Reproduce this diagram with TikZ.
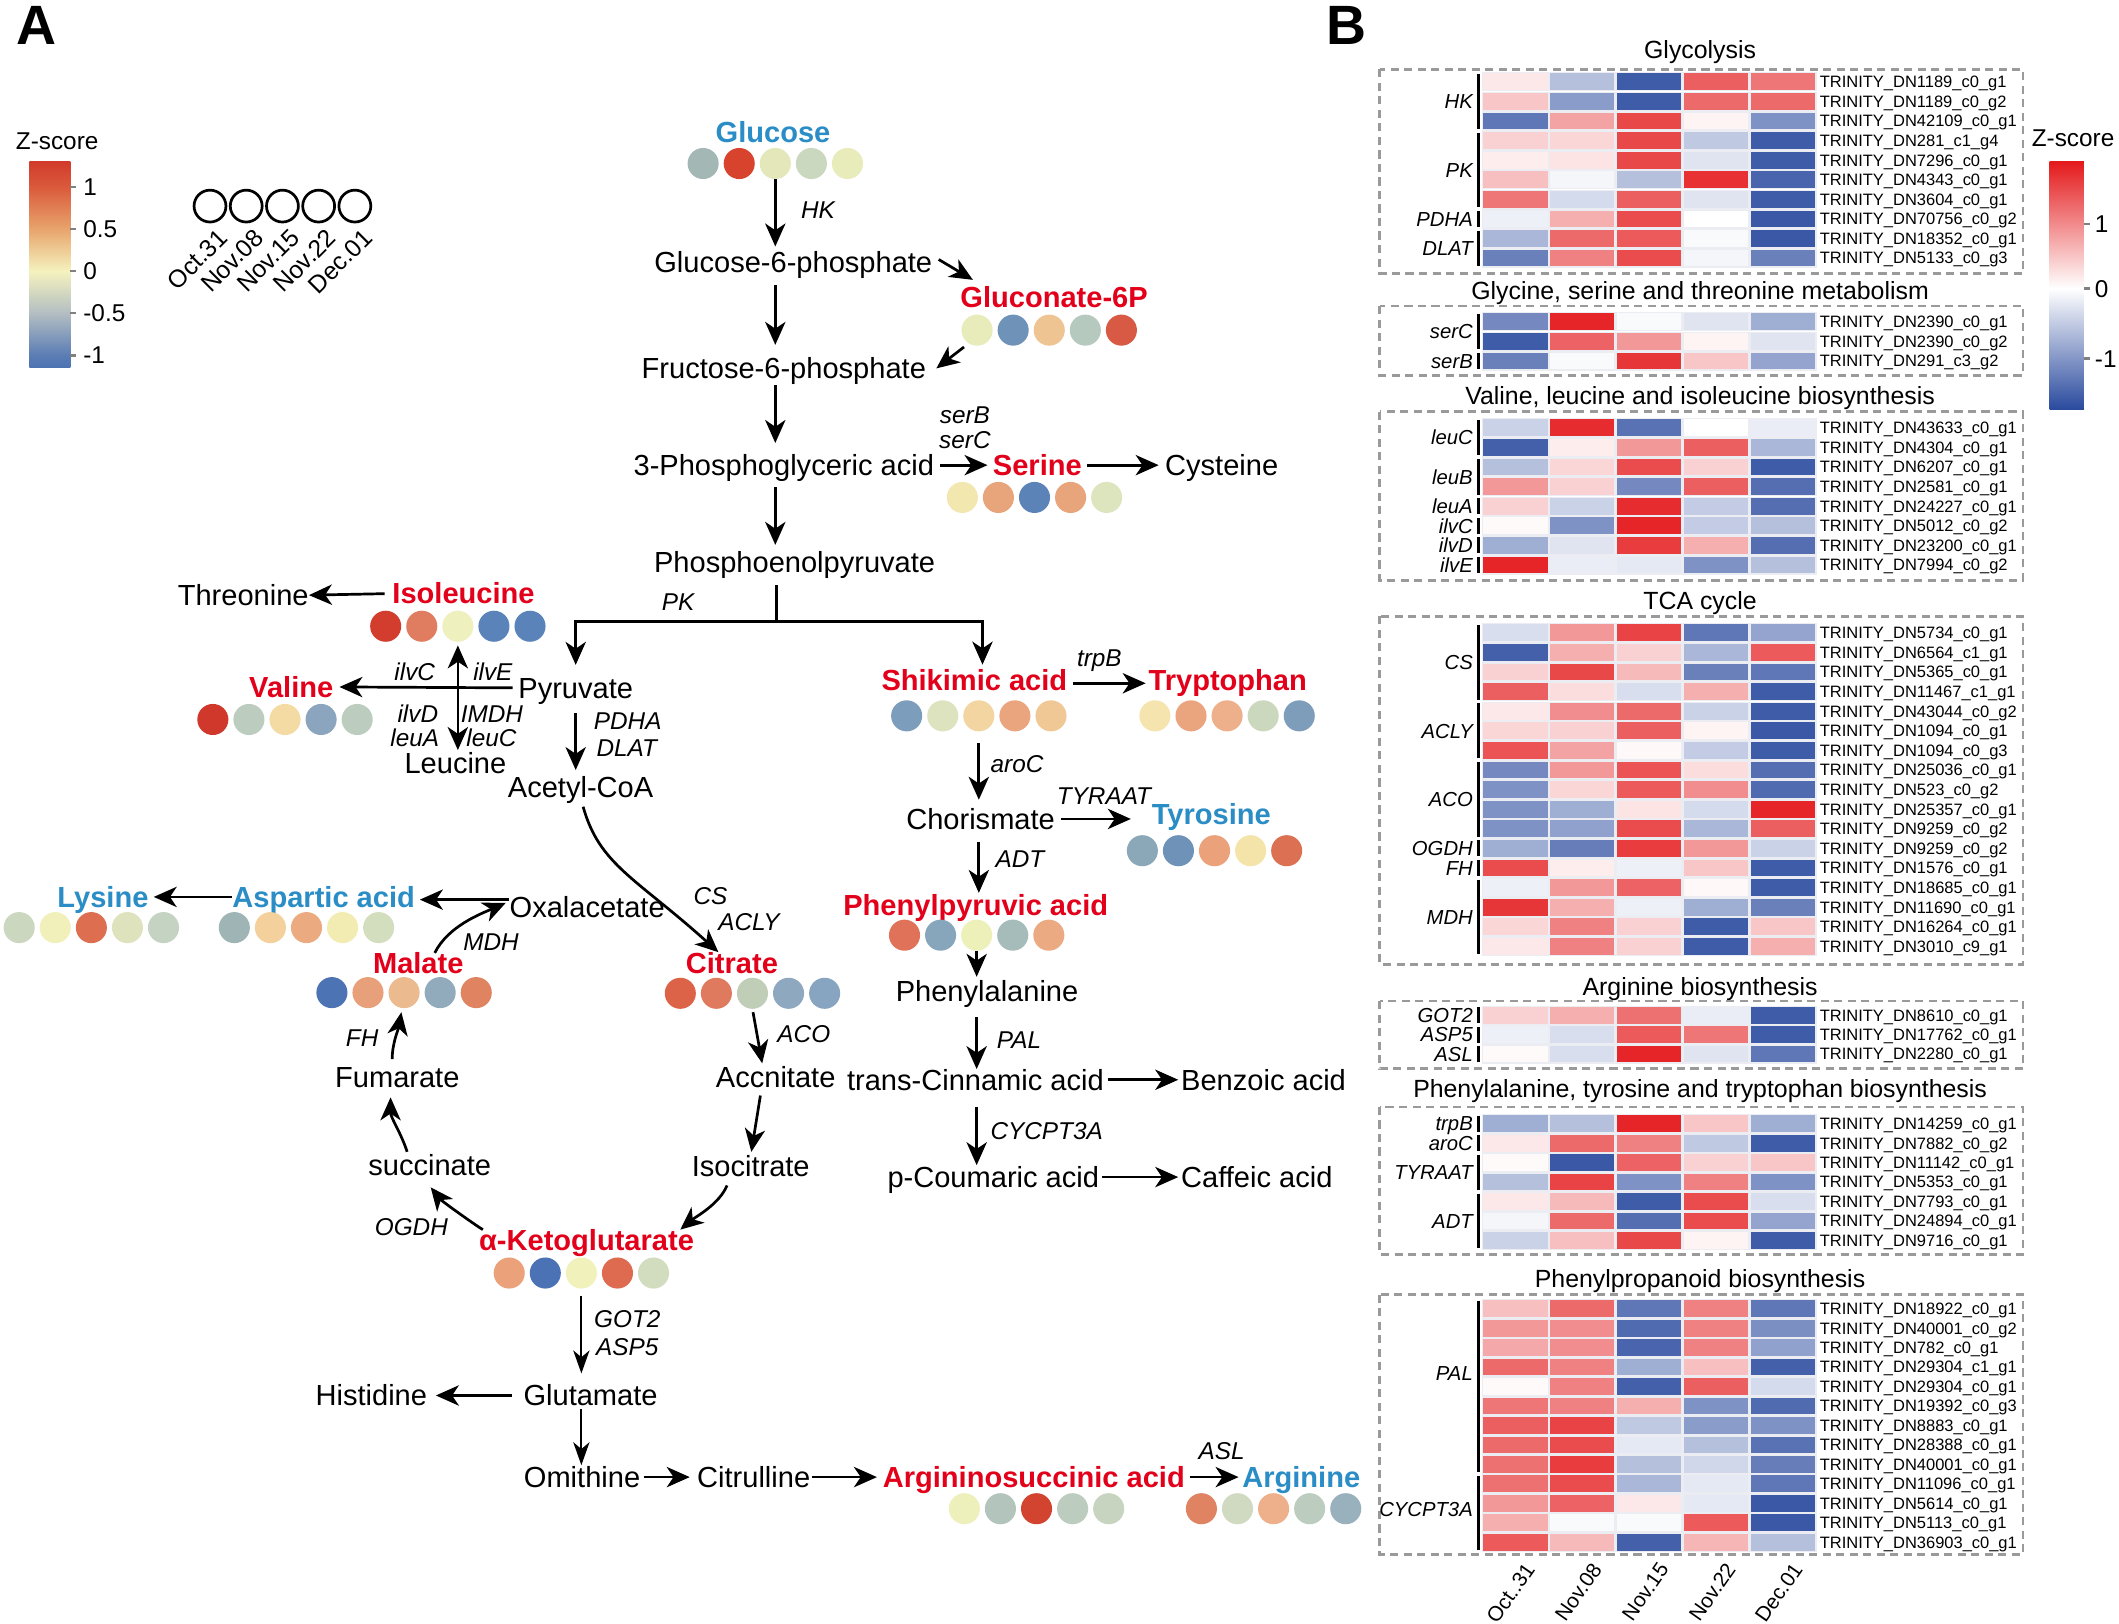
\documentclass[tikz,border=0pt]{standalone}
\usepackage{fontspec}
\setmainfont{Liberation Sans}
\usetikzlibrary{arrows.meta}
\definecolor{mred}{HTML}{E2001A}
\definecolor{mblue}{HTML}{2B8DC6}
\definecolor{hr}{HTML}{E41A1C}
\definecolor{hb}{HTML}{2A4A9E}
\definecolor{hbg}{HTML}{ECECF3}
\definecolor{dgray}{HTML}{9A9A9A}
\definecolor{zA}{HTML}{D23B2B}
\definecolor{zB}{HTML}{DA5A3C}
\definecolor{zC}{HTML}{E8A46C}
\definecolor{zD}{HTML}{F5F2BE}
\definecolor{zE}{HTML}{B3BEC2}
\definecolor{zF}{HTML}{5B7DB5}
\definecolor{zG}{HTML}{4C73B1}
\tikzset{
  met/.style={inner sep=0pt, text height=15.4pt, text depth=0pt, font=\fontsize{21.5}{24}\selectfont},
  metr/.style={met, font=\fontsize{21.5}{24}\selectfont\bfseries, text=mred},
  metb/.style={met, font=\fontsize{21.5}{24}\selectfont\bfseries, text=mblue},
  enz/.style={inner sep=0pt, text height=12.9pt, text depth=0pt, font=\fontsize{18}{20}\selectfont\itshape},
  dot/.style={circle, inner sep=0pt, minimum size=23pt},
  arr/.style={line width=2pt, -{Stealth[length=17pt,width=15pt,inset=5pt]}},
  arrthin/.style={line width=1.6pt, -{Stealth[length=17pt,width=12pt,inset=5pt]}},
  arrtwo/.style={line width=2pt, {Stealth[length=17pt,width=15pt,inset=5pt]}-{Stealth[length=17pt,width=15pt,inset=5pt]}},
  plainline/.style={line width=2pt},
  idl/.style={anchor=west, inner sep=0pt, text height=8.7pt, text depth=0pt, font=\fontsize{12.2}{13}\selectfont},
  glab/.style={anchor=east, inner sep=0pt, text height=10.7pt, text depth=0pt, font=\fontsize{15}{16}\selectfont\itshape},
  gbar/.style={line width=2pt, black},
  ttl/.style={inner sep=0pt, text height=13.2pt, text depth=0pt, font=\fontsize{18.4}{20}\selectfont},
  dbox/.style={draw=dgray, line width=2pt, dash pattern=on 6pt off 4pt},
  lgd/.style={inner sep=0pt, text height=12.9pt, text depth=0pt, font=\fontsize{18}{20}\selectfont},
  collab/.style={inner sep=0pt, font=\fontsize{15.4}{17}\selectfont, rotate=55, anchor=north east},
  panel/.style={inner sep=0pt, font=\fontsize{41}{45}\selectfont\bfseries},
}
\newcommand\dotrow[4]{%
  \foreach \c [count=\i] in {#4} {
    \definecolor{dc}{HTML}{\c}
    \node[dot, fill=dc] (#1-\i) at ({#2+(\i-1)*26.7}, #3) {};
  }%
}
\newcommand\hmsec[4]{%
  \foreach \vals/\idt [count=\r] in {#4} {
    \pgfmathsetmacro\ytop{#2+(\r-1)*#3}
    \fill[hbg] (1096.3,\ytop-1) rectangle (1344.8,\ytop+13.4);
    \foreach \v [count=\i] in \vals {
      \pgfmathtruncatemacro\a{abs(\v)}
      \ifnum\v<0 \colorlet{cc}{hb!\a!white}\else\colorlet{cc}{hr!\a!white}\fi
      \fill[cc] ({1097.5+(\i-1)*49.55},\ytop) rectangle ++(47.6,12.4);
    }
    \node[idl] (#1-\r) at (1346.4,\ytop+6.2) {\idt};
  }%
}
\newcommand\ggrp[7][0]{%
  \pgfmathsetmacro\gya{#3+(#5-1)*#4}%
  \pgfmathsetmacro\gyb{#3+(#6-1)*#4+12.4}%
  \draw[gbar] (1094,\gya+0.3) -- (1094,\gyb-0.3);
  \node[glab] (#2) at (1090,{(\gya+\gyb)/2+#1}) {#7};
}
\begin{document}
\begin{tikzpicture}[x=1pt,y=-1pt]
\fill[white] (0,0) rectangle (1568,1201);
\useasboundingbox (0,0) rectangle (1568,1201);

% ---------------- Panel A legend ----------------
\node[panel] (pA) at (27,19) {A};
\node[lgd] (zsA) at (42.3,104.1) {Z-score};
\shade[top color=zA, bottom color=zB] (21.7,119.7) rectangle (52,138.4);
\shade[top color=zB, bottom color=zC] (21.7,138.4) rectangle (52,169.5);
\shade[top color=zC, bottom color=zD] (21.7,169.5) rectangle (52,200.6);
\shade[top color=zD, bottom color=zE] (21.7,200.6) rectangle (52,231.7);
\shade[top color=zE, bottom color=zF] (21.7,231.7) rectangle (52,262.8);
\shade[top color=zF, bottom color=zG] (21.7,262.8) rectangle (52,272.2);
\foreach \yy/\tt [count=\i] in {138.4/1,169.5/0.5,200.6/0,231.7/-0.5,262.8/-1}{
  \draw[line width=2pt, gray] (52,\yy) -- (56.5,\yy);
  \node[lgd, anchor=west] (ta\i) at (61.5,\yy) {\tt};
}
\foreach \t [count=\i] in {Oct.31,Nov.08,Nov.15,Nov.22,Dec.01}{
  \node[draw, circle, line width=2pt, minimum size=23.6pt, inner sep=0pt] (lc\i) at ({155.4+(\i-1)*26.8},152.5) {};
  \node[inner sep=0pt, font=\fontsize{18.3}{20}\selectfont, rotate=45, anchor=north east] (ll\i) at ({155.4+(\i-1)*26.8+5},168) {\t};
}

% ---------------- Pathway nodes ----------------
\node[metb] (glc) at (572,97.5) {Glucose};
\node[met] (g6p) at (587,193.7) {Glucose-6-phosphate};
\node[metr] (gcn) at (780,219.6) {Gluconate-6P};
\node[met] (f6p) at (580,272.6) {Fructose-6-phosphate};
\node[met] (pga) at (580,344.2) {3-Phosphoglyceric acid};
\node[metr] (ser) at (767.6,344.2) {Serine};
\node[met] (cys) at (904,344.2) {Cysteine};
\node[met] (pep) at (588,415.7) {Phosphoenolpyruvate};
\node[met] (thr) at (180,440.4) {Threonine};
\node[metr] (ile) at (343,439.2) {Isoleucine};
\node[metr] (val) at (215.5,508.3) {Valine};
\node[met] (pyr) at (426,509) {Pyruvate};
\node[met] (leu) at (337,564.5) {Leucine};
\node[met] (acoa) at (429.6,582.3) {Acetyl-CoA};
\node[met] (oxa) at (434.5,671) {Oxalacetate};
\node[metb] (asp) at (239.5,663.7) {Aspartic acid};
\node[metb] (lys) at (76.2,663.7) {Lysine};
\node[metr] (mal) at (309.5,713) {Malate};
\node[metr] (cit) at (541.6,712.5) {Citrate};
\node[met] (acn) at (574,797) {Accnitate};
\node[met] (iso) at (555.5,863) {Isocitrate};
\node[metr] (akg) at (434,917.8) {α-Ketoglutarate};
\node[met] (suc) at (318,862) {succinate};
\node[met] (fum) at (294,797) {Fumarate};
\node[met] (glu) at (437,1032.6) {Glutamate};
\node[met] (his) at (274.8,1032.6) {Histidine};
\node[met] (orn) at (430.7,1093) {Omithine};
\node[met] (ctl) at (557.7,1093) {Citrulline};
\node[metr] (ars) at (765,1093) {Argininosuccinic acid};
\node[metb] (arg) at (962.9,1093) {Arginine};
\node[metr] (shik) at (721,503) {Shikimic acid};
\node[metr] (trp) at (908.5,503) {Tryptophan};
\node[met] (cho) at (725.6,606) {Chorismate};
\node[metb] (tyr) at (896.3,602.5) {Tyrosine};
\node[metr] (ppa) at (722,669.5) {Phenylpyruvic acid};
\node[met] (phe) at (730.4,733.2) {Phenylalanine};
\node[met] (tci) at (721.8,799) {trans-Cinnamic acid};
\node[met] (ben) at (935,799) {Benzoic acid};
\node[met] (pco) at (735,871) {p-Coumaric acid};
\node[met] (caf) at (930,871) {Caffeic acid};

% dots
\dotrow{glcd}{520.3}{121}{A3B8B5,D8432E,E3E7B9,CBD8C0,E8EBBA}
\dotrow{gcnd}{723}{244.3}{E8EBBA,6F93B8,EEC493,B5C9BF,D85A45}
\dotrow{serd}{712.1}{368.1}{F3E7B0,E8A47A,5B83B8,E8A47A,DCE5BE}
\dotrow{iled}{285.4}{463.4}{D33D2E,E07C60,EEF0BE,5A84B9,5A84B9}
\dotrow{vald}{157.5}{532.4}{D0382C,BCCDBF,F3DBA3,8AA5BD,BCCDBF}
\dotrow{aspd}{173.4}{686.4}{9FB5B5,F3D09C,EBAA80,F2ECB2,D3DEBE}
\dotrow{lysd}{14.2}{686.4}{CCD7C0,F1F0BA,DE6E50,DEE3BE,C5D4C2}
\dotrow{mald}{245.6}{734.5}{4C74B5,E8A07A,EBBA8F,91ABBC,E08361}
\dotrow{citd}{503.4}{735}{DC6348,E07A5F,C0CEB8,8DA8BF,87A4C0}
\dotrow{akgd}{376.8}{942}{EBA27A,4A72B5,F0F1BB,DE6B50,D1DDBE}
\dotrow{arsd}{713.6}{1116.4}{EEF0BC,B2C4BC,D2442F,BCCDC0,C6D4C0}
\dotrow{argd}{889}{1116.4}{E08363,CFDAC0,EEB08A,BCCDC0,98B1BD}
\dotrow{shikd}{670.9}{529.7}{7C9DBB,DCE3BE,F3D5A2,EBA57E,F0C896}
\dotrow{trpd}{854.6}{529.7}{F5E4AE,EBA57E,EEB08A,CCD8BE,7D9DBB}
\dotrow{tyrd}{845.3}{629.5}{8AA8B8,6E92B8,EBA17A,F5E4AA,DC7052}
\dotrow{ppad}{669.3}{692}{DF7258,88A6BB,EEF0BA,A6BCBA,EBAA82}

% enzyme labels
\node[enz] (eHK) at (605.3,155.4) {HK};
\node[enz] (eserB) at (714,307.2) {serB};
\node[enz] (eserC) at (714,325.7) {serC};
\node[enz] (ePK) at (501.8,445.4) {PK};
\node[enz] (eilvC) at (306.9,497.2) {ilvC};
\node[enz] (eilvE) at (364.7,497.2) {ilvE};
\node[enz] (eilvD) at (309.2,528.5) {ilvD};
\node[enz] (eleuA) at (306.9,546) {leuA};
\node[enz] (eIMDH) at (364,528.5) {IMDH};
\node[enz] (eleuC) at (363.7,546) {leuC};
\node[enz] (ePDHA) at (464.5,533) {PDHA};
\node[enz] (eDLAT) at (463.8,553.2) {DLAT};
\node[enz] (eCS) at (525.8,662.5) {CS};
\node[enz] (eACLY) at (554.2,682.2) {ACLY};
\node[enz] (eMDH) at (363.4,697) {MDH};
\node[enz] (eACO) at (594.8,764.9) {ACO};
\node[enz] (eFH) at (268,768) {FH};
\node[enz] (eOGDH) at (304.4,908) {OGDH};
\node[enz] (eGOT2) at (464.2,975.8) {GOT2};
\node[enz] (eASP5) at (464.2,996.3) {ASP5};
\node[enz] (eASL) at (904,1073.3) {ASL};
\node[enz] (etrpB) at (813.5,486.5) {trpB};
\node[enz] (earoC) at (752.6,565) {aroC};
\node[enz] (eTYR) at (816.9,589) {TYRAAT};
\node[enz] (eADT) at (754.7,635.4) {ADT};
\node[enz] (ePAL) at (754,769.4) {PAL};
\node[enz] (eCYC) at (774.5,836.9) {CYCPT3A};

% connectors
\draw[arr, shorten >=3.4pt] (glcd-3.south) -- (g6p.north -| glcd-3.south);
\draw[arr] ([xshift=4.6pt,yshift=1.7pt]g6p.east) -- ([xshift=9.4pt,yshift=4.6pt]gcn.north west);
\draw[arr] ([xshift=-1.4pt,yshift=-4.2pt]gcnd-1.south west) -- ([xshift=7.5pt]f6p.east);
\draw[arr, shorten <=9.6pt, shorten >=9.5pt] (g6p.south -| glcd-3) -- (f6p.north -| glcd-3);
\draw[arr, shorten <=4.7pt, shorten >=8.5pt] (f6p.south -| glcd-3) -- (pga.north -| glcd-3);
\draw[arr, shorten <=8.3pt, shorten >=4.6pt] (pga.south -| glcd-3) -- (pep.north -| glcd-3);
\draw[arr, shorten <=4.5pt, shorten >=3.8pt] (pga.east) -- (ser.west);
\draw[arr, shorten <=3.8pt, shorten >=4.6pt] (ser.east) -- (cys.west);
\coordinate (pkj) at (574.5,459.7);
\draw[plainline, shorten <=9.6pt] (pep.south -| pkj) -- (pkj);
\draw[arr, shorten >=9.1pt] (pkj) -| (pyr.north);
\draw[arr, shorten >=3.3pt] (pkj) -| ([xshift=6pt]shik.north);
\draw[arr, shorten <=5.6pt] (ile.west) -- (thr.east);
\draw[arr, shorten <=4pt, shorten >=4.4pt] (pyr.west) -- (val.east);
\draw[arrtwo, shorten <=2.5pt, shorten >=1.6pt] (iled-3.south) -- (leu.north -| iled-3);
\draw[arr, shorten <=10.8pt, shorten >=4.6pt] (pyr.south) -- (acoa.north -| pyr.south);
\draw[arr, shorten <=7pt] (acoa.south) .. controls +(14,50) and +(-61,-55) .. ([xshift=-10pt]cit.north);
\draw[arr] ([xshift=12.2pt]mal.north) .. controls +(10,-20) and +(-18,8) .. ([xshift=-2.6pt,yshift=3pt]oxa.west);
\draw[arr, shorten >=3.5pt] ([yshift=5.3pt]oxa.west) -- ([yshift=-2pt]asp.east);
\draw[arr, shorten >=3.7pt] (asp.west) -- (lys.east);
\draw[arr, shorten <=2.3pt, shorten >=2.3pt] (citd-3.south) -- ([xshift=-9.6pt]acn.north);
\draw[arr, shorten <=5.8pt, shorten >=2.8pt] ([xshift=-10.4pt]acn.south) -- (iso.north);
\draw[arr] ([xshift=-17.5pt,yshift=-6.3pt]iso.south) .. controls +(-6,14) and +(12,-10) .. ([xshift=69.4pt]akg.north);
\draw[arr] ([xshift=-76.7pt]akg.north) .. controls +(-8,-5) and +(8,10) .. ([xshift=0.7pt,yshift=-8.7pt]suc.south);
\draw[arr] ([xshift=-16.7pt,yshift=1.8pt]suc.north) .. controls +(-5,-15) and +(0,15) .. ([xshift=-5pt,yshift=-7.1pt]fum.south);
\draw[arr] ([xshift=-3.8pt,yshift=5.4pt]fum.north) .. controls +(0,-12) and +(-2,12) .. ([xshift=-2pt,yshift=-2.8pt]mald-3.south);
\draw[arrthin, shorten <=5pt, shorten >=8.4pt] (akgd-3.south) -- (glu.north -| akgd-3);
\draw[arr, shorten <=8.3pt, shorten >=6.3pt] (glu.west) -- (his.east);
\draw[arrthin, shorten <=2.1pt, shorten >=0.9pt] (glu.south -| akgd-3) -- (orn.north -| akgd-3);
\draw[arr, shorten <=2.4pt, shorten >=5.3pt] (orn.east) -- (ctl.west);
\draw[arr, shorten <=1pt, shorten >=4.2pt] (ctl.east) -- (ars.west);
\draw[arr, shorten <=3.6pt, shorten >=2.6pt] (ars.east) -- (arg.west);
\draw[arr, shorten <=4pt, shorten >=2pt] ([yshift=-2.6pt]shik.east) -- ([yshift=-2.6pt]trp.west);
\draw[arr, shorten <=8.4pt, shorten >=6.3pt] (shikd-3.south) -- (cho.north -| shikd-3);
\draw[arr, shorten <=4.4pt, shorten >=15.3pt] (cho.east) -- (tyr.west |- cho.east);
\draw[arr, shorten <=9.3pt, shorten >=0.9pt] (cho.south -| shikd-3) -- (ppa.north -| shikd-3);
\draw[arr, shorten >=2.5pt] (ppad-3.south) -- (phe.north -| ppad-3);
\draw[arr, shorten <=11.3pt] (phe.south -| ppad-3) -- (tci.north -| ppad-3);
\draw[arr, shorten <=2.7pt, shorten >=2pt] (tci.east) -- (ben.west);
\draw[arr, shorten <=12.5pt, shorten >=0.9pt] (tci.south -| ppad-3) -- (pco.north -| ppad-3);
\draw[arr, shorten <=2pt, shorten >=2pt] (pco.east) -- (caf.west);

% ---------------- Panel B ----------------
\node[panel] (pB) at (996,19) {B};
\node[lgd] (zsB) at (1534,102) {Z-score};
\shade[top color=hr, bottom color=white] (1516.6,119.7) rectangle (1542,213.4);
\shade[top color=white, bottom color=hb] (1516.6,213.4) rectangle (1542,303);
\foreach \yy/\tt [count=\i] in {165.8/1,213.4/0,265.2/-1}{
  \draw[line width=2pt, gray] (1542,\yy) -- (1546.5,\yy);
  \node[lgd, anchor=west] (tb\i) at (1550,\yy) {\tt};
}

% Glycolysis
\node[ttl] (tgly) at (1258,37) {Glycolysis};
\draw[dbox] (1021,51.3) rectangle (1497,202.3);
\hmsec{gly}{54.3}{14.5}{%
{10,-35,-90,70,60}/TRINITY\_DN1189\_c0\_g1,
{25,-55,-90,65,65}/TRINITY\_DN1189\_c0\_g2,
{-75,40,80,5,-60}/TRINITY\_DN42109\_c0\_g1,
{20,18,80,-30,-90}/TRINITY\_DN281\_c1\_g4,
{8,12,80,-15,-90}/TRINITY\_DN7296\_c0\_g1,
{28,-5,-35,90,-85}/TRINITY\_DN4343\_c0\_g1,
{60,-20,70,-15,-90}/TRINITY\_DN3604\_c0\_g1,
{-8,35,78,0,-92}/TRINITY\_DN70756\_c0\_g2,
{-40,65,72,-3,-92}/TRINITY\_DN18352\_c0\_g1,
{-70,55,78,-5,-70}/TRINITY\_DN5133\_c0\_g3}
\ggrp{gHK}{54.3}{14.5}{1}{3}{HK}
\ggrp{gPK}{54.3}{14.5}{4}{7}{PK}
\ggrp{gPDHA}{54.3}{14.5}{8}{8}{PDHA}
\ggrp{gDLAT}{54.3}{14.5}{9}{10}{DLAT}

% Glycine
\node[ttl] (tgsm) at (1258,214.7) {Glycine, serine and threonine metabolism};
\draw[dbox] (1021,226.5) rectangle (1497,277.6);
\hmsec{gsm}{231.9}{14.5}{%
{-65,95,-3,-15,-45}/TRINITY\_DN2390\_c0\_g1,
{-90,68,45,5,-15}/TRINITY\_DN2390\_c0\_g2,
{-70,-3,88,25,-50}/TRINITY\_DN291\_c3\_g2}
\ggrp{gserC}{231.9}{14.5}{1}{2}{serC}
\ggrp{gserB}{231.9}{14.5}{3}{3}{serB}

% Valine
\node[ttl] (tvli) at (1258,292.4) {Valine, leucine and isoleucine biosynthesis};
\draw[dbox] (1021,304.7) rectangle (1497,429.3);
\hmsec{vli}{310.4}{14.5}{%
{-25,92,-78,0,-10}/TRINITY\_DN43633\_c0\_g1,
{-88,8,45,70,-40}/TRINITY\_DN4304\_c0\_g1,
{-35,18,78,20,-90}/TRINITY\_DN6207\_c0\_g1,
{45,20,-65,70,-80}/TRINITY\_DN2581\_c0\_g1,
{20,-25,92,-28,-80}/TRINITY\_DN24227\_c0\_g1,
{2,-60,95,-28,-35}/TRINITY\_DN5012\_c0\_g2,
{-45,-15,85,35,-80}/TRINITY\_DN23200\_c0\_g1,
{95,-10,-12,-60,-35}/TRINITY\_DN7994\_c0\_g2}
\ggrp{gleuC}{310.4}{14.5}{1}{2}{leuC}
\ggrp{gleuB}{310.4}{14.5}{3}{4}{leuB}
\ggrp{gleuA}{310.4}{14.5}{5}{5}{leuA}
\ggrp{gilvC}{310.4}{14.5}{6}{6}{ilvC}
\ggrp{gilvD}{310.4}{14.5}{7}{7}{ilvD}
\ggrp{gilvE}{310.4}{14.5}{8}{8}{ilvE}

% TCA
\node[ttl] (ttca) at (1258,444.1) {TCA cycle};
\draw[dbox] (1021,456) rectangle (1497,713.5);
\hmsec{tca}{462.1}{14.5}{%
{-18,45,82,-75,-50}/TRINITY\_DN5734\_c0\_g1,
{-88,35,20,-40,72}/TRINITY\_DN6564\_c1\_g1,
{20,80,30,-70,-75}/TRINITY\_DN5365\_c0\_g1,
{70,15,-18,35,-90}/TRINITY\_DN11467\_c1\_g1,
{10,50,65,-25,-90}/TRINITY\_DN43044\_c0\_g2,
{18,20,70,5,-92}/TRINITY\_DN1094\_c0\_g1,
{75,40,3,-28,-90}/TRINITY\_DN1094\_c0\_g3,
{-65,45,75,15,-80}/TRINITY\_DN25036\_c0\_g1,
{-60,18,72,50,-82}/TRINITY\_DN523\_c0\_g2,
{-60,-45,12,-20,95}/TRINITY\_DN25357\_c0\_g1,
{-60,-52,78,-40,70}/TRINITY\_DN9259\_c0\_g2,
{-45,-72,85,45,-25}/TRINITY\_DN9259\_c0\_g2,
{78,8,-8,25,-90}/TRINITY\_DN1576\_c0\_g1,
{-8,45,68,3,-90}/TRINITY\_DN18685\_c0\_g1,
{88,35,-8,-45,-70}/TRINITY\_DN11690\_c0\_g1,
{18,55,20,-90,25}/TRINITY\_DN16264\_c0\_g1,
{10,55,20,-90,35}/TRINITY\_DN3010\_c9\_g1}
\ggrp{gCS}{462.1}{14.5}{1}{4}{CS}
\ggrp{gACLY}{462.1}{14.5}{5}{7}{ACLY}
\ggrp{gACO}{462.1}{14.5}{8}{11}{ACO}
\ggrp{gOGDH}{462.1}{14.5}{12}{12}{OGDH}
\ggrp{gFH}{462.1}{14.5}{13}{13}{FH}
\ggrp{gMDH}{462.1}{14.5}{14}{17}{MDH}

% Arginine
\node[ttl] (tarb) at (1258,729.8) {Arginine biosynthesis};
\draw[dbox] (1021,740.7) rectangle (1497,790.8);
\hmsec{arb}{745.1}{14.3}{%
{20,35,62,-10,-90}/TRINITY\_DN8610\_c0\_g1,
{-8,-18,72,60,-90}/TRINITY\_DN17762\_c0\_g1,
{2,-18,95,-15,-75}/TRINITY\_DN2280\_c0\_g1}
\ggrp{gGOT2}{745.1}{14.3}{1}{1}{GOT2}
\ggrp{gASP5}{745.1}{14.3}{2}{2}{ASP5}
\ggrp{gASL}{745.1}{14.3}{3}{3}{ASL}

% Phe Tyr Trp
\node[ttl] (tptt) at (1258,805.6) {Phenylalanine, tyrosine and tryptophan biosynthesis};
\draw[dbox] (1021,819.1) rectangle (1497,928.2);
\hmsec{ptt}{825.3}{14.4}{%
{-45,-35,95,25,-45}/TRINITY\_DN14259\_c0\_g1,
{10,65,55,-30,-90}/TRINITY\_DN7882\_c0\_g2,
{2,-92,68,20,25}/TRINITY\_DN11142\_c0\_g1,
{-35,82,-60,55,-60}/TRINITY\_DN5353\_c0\_g1,
{10,30,-90,78,-18}/TRINITY\_DN7793\_c0\_g1,
{-5,65,-80,78,-50}/TRINITY\_DN24894\_c0\_g1,
{-25,28,80,5,-90}/TRINITY\_DN9716\_c0\_g1}
\ggrp{gtrpB}{825.3}{14.4}{1}{1}{trpB}
\ggrp{garoC}{825.3}{14.4}{2}{2}{aroC}
\ggrp{gTYR}{825.3}{14.4}{3}{4}{TYRAAT}
\ggrp{gADT}{825.3}{14.4}{5}{7}{ADT}

% Phenylpropanoid
\node[ttl] (tppb) at (1258,946.2) {Phenylpropanoid biosynthesis};
\draw[dbox] (1021,958) rectangle (1497,1150.3);
\hmsec{ppb}{962.2}{14.4}{%
{28,65,-75,55,-75}/TRINITY\_DN18922\_c0\_g1,
{45,50,-82,55,-62}/TRINITY\_DN40001\_c0\_g2,
{38,50,-85,55,-52}/TRINITY\_DN782\_c0\_g1,
{65,55,-45,28,-88}/TRINITY\_DN29304\_c1\_g1,
{2,55,-88,70,-20}/TRINITY\_DN29304\_c0\_g1,
{60,55,35,-60,-82}/TRINITY\_DN19392\_c0\_g3,
{70,82,-30,-55,-60}/TRINITY\_DN8883\_c0\_g1,
{65,78,-12,-35,-78}/TRINITY\_DN28388\_c0\_g1,
{62,85,-35,-22,-72}/TRINITY\_DN40001\_c0\_g1,
{62,78,-40,-12,-75}/TRINITY\_DN11096\_c0\_g1,
{45,68,10,-12,-92}/TRINITY\_DN5614\_c0\_g1,
{35,-3,-3,72,-92}/TRINITY\_DN5113\_c0\_g1,
{72,30,-88,32,-35}/TRINITY\_DN36903\_c0\_g1}
\ggrp[-10]{gPAL}{962.2}{14.4}{1}{9}{PAL}
\ggrp[-3]{gCYC}{962.2}{14.4}{10}{13}{CYCPT3A}

% column labels
\foreach \t [count=\i] in {Oct..31,Nov.08,Nov.15,Nov.22,Dec.01}{
  \node[collab] (cl\i) at ({1097.5+(\i-1)*49.55+24+6},1155) {\t};
}
\end{tikzpicture}
\end{document}
